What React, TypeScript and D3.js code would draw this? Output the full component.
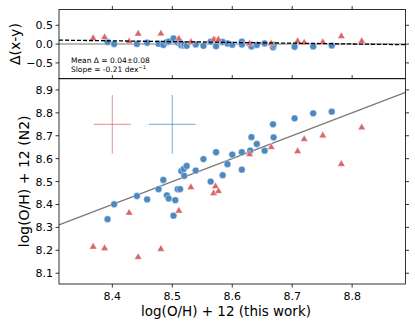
import React, { useEffect, useRef } from "react";
import * as d3 from "d3";

// metallicity from this work (x) vs N2 calibration (y)
const blueX = [8.392, 8.403, 8.441, 8.458, 8.477, 8.485, 8.491, 8.494, 8.505, 8.502, 8.509, 8.513, 8.515, 8.519, 8.52, 8.524, 8.539, 8.552, 8.564, 8.573, 8.584, 8.592, 8.6, 8.616, 8.616, 8.63, 8.632, 8.641, 8.654, 8.668, 8.669, 8.704, 8.735, 8.766];
const blueY = [8.336, 8.401, 8.437, 8.422, 8.467, 8.507, 8.44, 8.426, 8.419, 8.351, 8.467, 8.467, 8.546, 8.555, 8.525, 8.568, 8.548, 8.598, 8.5, 8.628, 8.528, 8.576, 8.618, 8.552, 8.628, 8.635, 8.694, 8.664, 8.635, 8.75, 8.693, 8.776, 8.798, 8.805];
const redX = [8.368, 8.387, 8.428, 8.443, 8.481, 8.511, 8.531, 8.572, 8.569, 8.577, 8.629, 8.665, 8.709, 8.72, 8.751, 8.782, 8.816];
const redY = [8.215, 8.209, 8.363, 8.17, 8.205, 8.372, 8.475, 8.479, 8.449, 8.458, 8.619, 8.65, 8.632, 8.685, 8.701, 8.576, 8.736];

// typical uncertainties
const errX = [8.4, 8.5];
const errY = [8.75, 8.75];
const errXerr = [0.031, 0.039];
const errYerr = [0.128, 0.128];

const xTicks = [8.4, 8.5, 8.6, 8.7, 8.8];
const yTicks = [8.1, 8.2, 8.3, 8.4, 8.5, 8.6, 8.7, 8.8, 8.9];
const dTicks = [-0.5, 0, 0.5];

// linear fit of delta vs x
const fitSlope = -0.21;
const fitPivot = 8.6;
const fitAtPivot = 0.045;

const BLUE = "#4d88c2";
const RED = "#d9666b";

export default function App() {
  const ref = useRef<SVGSVGElement>(null);

  useEffect(() => {
    const svg = d3.select(ref.current);
    svg.selectAll("*").remove();
    const font = "DejaVu Sans, sans-serif";

    const left = 59, right = 405.5;
    const topT = 9.5, splitY = 78.7, bottomB = 284;

    const x = d3.scaleLinear().domain([8.311, 8.889]).range([left, right]);
    const yB = d3.scaleLinear().domain([8.053, 8.949]).range([bottomB, splitY]);
    const yT = d3.scaleLinear().domain([-0.92, 0.92]).range([splitY, topT]);

    const tri = d3.symbol().type(d3.symbolTriangle).size(24);

    // ---------- top panel ----------
    const top = svg.append("g");
    top.append("line")
      .attr("x1", left).attr("x2", right)
      .attr("y1", yT(0)).attr("y2", yT(0))
      .attr("stroke", "#a0a0a0").attr("stroke-width", 1.5);

    const dBlue = blueX.map((v, i) => v - blueY[i]);
    const dRed = redX.map((v, i) => v - redY[i]);

    top.selectAll("circle.b")
      .data(blueX)
      .enter()
      .append("circle")
      .attr("cx", (d) => x(d))
      .attr("cy", (d, i) => yT(dBlue[i]))
      .attr("r", 3.4)
      .attr("fill", BLUE)
      .attr("stroke", "white")
      .attr("stroke-width", 0.4);

    top.selectAll("path.r")
      .data(redX)
      .enter()
      .append("path")
      .attr("d", tri)
      .attr("transform", (d, i) => `translate(${x(d)},${yT(dRed[i])})`)
      .attr("fill", RED)
      .attr("stroke", "white")
      .attr("stroke-width", 0.4);

    const fit = (v: number) => fitAtPivot + fitSlope * (v - fitPivot);
    const [x0, x1] = x.domain();
    top.append("line")
      .attr("x1", x(x0)).attr("x2", x(x1))
      .attr("y1", yT(fit(x0))).attr("y2", yT(fit(x1)))
      .attr("stroke", "black")
      .attr("stroke-width", 1.3)
      .attr("stroke-dasharray", "4,2");

    top.append("text")
      .attr("x", 71).attr("y", 63.3)
      .attr("font-family", font).attr("font-size", 7.5)
      .text("Mean \u0394 = 0.04\u00b10.08");
    const sl = top.append("text")
      .attr("x", 71).attr("y", 72)
      .attr("font-family", font).attr("font-size", 7.5);
    sl.append("tspan").text("Slope = -0.21 dex");
    sl.append("tspan").attr("dy", -3).attr("font-size", 5.3).text("\u22121");

    top.append("rect")
      .attr("x", left).attr("y", topT)
      .attr("width", right - left).attr("height", splitY - topT)
      .attr("fill", "none").attr("stroke", "black").attr("stroke-width", 0.8);

    // top ticks
    xTicks.forEach((t) => {
      top.append("line")
        .attr("x1", x(t)).attr("x2", x(t))
        .attr("y1", topT).attr("y2", topT - 3.5)
        .attr("stroke", "black").attr("stroke-width", 0.8);
    });
    dTicks.forEach((t) => {
      top.append("line")
        .attr("x1", left).attr("x2", left - 3.5)
        .attr("y1", yT(t)).attr("y2", yT(t))
        .attr("stroke", "black").attr("stroke-width", 0.8);
      top.append("line")
        .attr("x1", right).attr("x2", right + 3.5)
        .attr("y1", yT(t)).attr("y2", yT(t))
        .attr("stroke", "black").attr("stroke-width", 0.8);
      top.append("text")
        .attr("x", left - 6).attr("y", yT(t))
        .attr("dy", "0.36em")
        .attr("text-anchor", "end")
        .attr("font-family", font).attr("font-size", 11)
        .text(d3.format(".1f")(t).replace("-", "\u2212"));
    });

    top.append("text")
      .attr("transform", `translate(20,${(topT + splitY) / 2}) rotate(-90)`)
      .attr("text-anchor", "middle")
      .attr("font-family", font).attr("font-size", 14)
      .text("\u0394(x-y)");

    // ---------- bottom panel ----------
    const bot = svg.append("g");

    errX.forEach((ex, i) => {
      const c = i === 0 ? RED : BLUE;
      bot.append("line")
        .attr("x1", x(ex - errXerr[i])).attr("x2", x(ex + errXerr[i]))
        .attr("y1", yB(errY[i])).attr("y2", yB(errY[i]))
        .attr("stroke", c).attr("stroke-opacity", 0.6).attr("stroke-width", 1.2);
      bot.append("line")
        .attr("x1", x(ex)).attr("x2", x(ex))
        .attr("y1", yB(errY[i] - errYerr[i])).attr("y2", yB(errY[i] + errYerr[i]))
        .attr("stroke", c).attr("stroke-opacity", 0.6).attr("stroke-width", 1.2);
    });

    bot.append("line")
      .attr("x1", x(x0)).attr("x2", x(x1))
      .attr("y1", yB(x0)).attr("y2", yB(x1))
      .attr("stroke", "#7a7a7a").attr("stroke-width", 1.3);

    bot.selectAll("circle.b")
      .data(blueX)
      .enter()
      .append("circle")
      .attr("cx", (d) => x(d))
      .attr("cy", (d, i) => yB(blueY[i]))
      .attr("r", 3.4)
      .attr("fill", BLUE)
      .attr("stroke", "white")
      .attr("stroke-width", 0.4);

    bot.selectAll("path.r")
      .data(redX)
      .enter()
      .append("path")
      .attr("d", tri)
      .attr("transform", (d, i) => `translate(${x(d)},${yB(redY[i])})`)
      .attr("fill", RED)
      .attr("stroke", "white")
      .attr("stroke-width", 0.4);

    bot.append("rect")
      .attr("x", left).attr("y", splitY)
      .attr("width", right - left).attr("height", bottomB - splitY)
      .attr("fill", "none").attr("stroke", "black").attr("stroke-width", 0.8);

    xTicks.forEach((t) => {
      bot.append("line")
        .attr("x1", x(t)).attr("x2", x(t))
        .attr("y1", bottomB).attr("y2", bottomB + 3.5)
        .attr("stroke", "black").attr("stroke-width", 0.8);
      bot.append("line")
        .attr("x1", x(t)).attr("x2", x(t))
        .attr("y1", splitY).attr("y2", splitY - 3.5)
        .attr("stroke", "black").attr("stroke-width", 0.8);
      bot.append("text")
        .attr("x", x(t)).attr("y", 299.5)
        .attr("text-anchor", "middle")
        .attr("font-family", font).attr("font-size", 11)
        .text(d3.format(".1f")(t));
    });
    yTicks.forEach((t) => {
      bot.append("line")
        .attr("x1", left).attr("x2", left - 3.5)
        .attr("y1", yB(t)).attr("y2", yB(t))
        .attr("stroke", "black").attr("stroke-width", 0.8);
      bot.append("line")
        .attr("x1", right).attr("x2", right + 3.5)
        .attr("y1", yB(t)).attr("y2", yB(t))
        .attr("stroke", "black").attr("stroke-width", 0.8);
      bot.append("text")
        .attr("x", left - 6).attr("y", yB(t))
        .attr("dy", "0.36em")
        .attr("text-anchor", "end")
        .attr("font-family", font).attr("font-size", 11)
        .text(d3.format(".1f")(t));
    });

    bot.append("text")
      .attr("x", 226).attr("y", 316)
      .attr("text-anchor", "middle")
      .attr("font-family", font).attr("font-size", 13.5)
      .text("log(O/H) + 12 (this work)");

    bot.append("text")
      .attr("transform", `translate(29,${(splitY + bottomB) / 2}) rotate(-90)`)
      .attr("text-anchor", "middle")
      .attr("font-family", font).attr("font-size", 14)
      .text("log(O/H) + 12 (N2)");
  }, []);

  return (
    <div style={{ position: "absolute", left: 0, top: 0 }}>
      <svg ref={ref} width={415} height={327}></svg>
    </div>
  );
}
